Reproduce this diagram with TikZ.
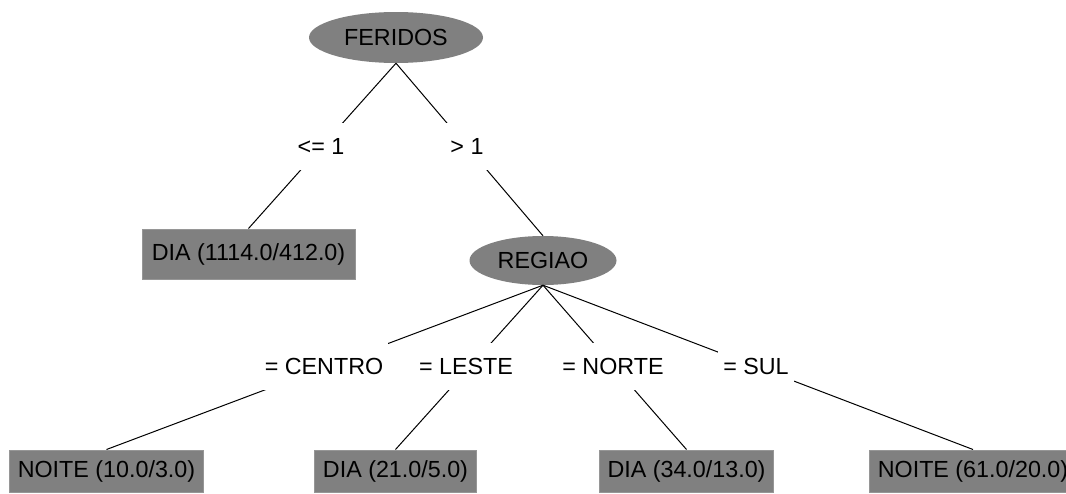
\documentclass[tikz,border=0pt]{standalone}
\usepackage{fontspec}
\setmainfont{Liberation Sans}
\usetikzlibrary{shapes.geometric}
\definecolor{nodegray}{RGB}{128,128,128}
\definecolor{boxedge}{RGB}{150,150,150}
\tikzset{
  inner/.style={ellipse, fill=nodegray, draw=none, inner sep=0pt, text height=16.8pt, text depth=0pt},
  leaf/.style={rectangle, fill=nodegray, draw=boxedge, line width=1pt, inner xsep=8pt, inner ysep=0pt, text height=16.8pt, text depth=4pt},
  lbl/.style={fill=white, inner xsep=5pt, inner ysep=0pt, minimum height=47pt, text height=16.8pt, text depth=0pt},
  edge/.style={draw=black, line width=1pt},
}
\begin{document}
\begin{tikzpicture}[x=1pt,y=-1pt,font=\fontsize{23.3}{28}\selectfont]
\useasboundingbox (0,0) rectangle (1066,493);
\node[inner, minimum width=174pt, minimum height=51pt] (fer) at (396,37.5) {FERIDOS};
\node[leaf, minimum width=213pt, minimum height=50pt] (dia1) at (248.5,254) {DIA (1114.0/412.0)};
\node[inner, minimum width=147pt, minimum height=49pt] (reg) at (543,260.5) {REGIAO};
\node[leaf, minimum height=42pt] (noite1) at (106.5,471) {NOITE (10.0/3.0)};
\node[leaf, minimum height=42pt] (dia2) at (395.5,471) {DIA (21.0/5.0)};
\node[leaf, minimum height=42pt] (dia3) at (686.5,471) {DIA (34.0/13.0)};
\node[leaf, minimum height=42pt] (noite2) at (973,471) {NOITE (61.0/20.0)};
\draw[edge] (fer.south) -- (dia1.north);
\draw[edge] (fer.south) -- (reg.north);
\draw[edge] (reg.south) -- (noite1.north);
\draw[edge] (reg.south) -- (dia2.north);
\draw[edge] (reg.south) -- (dia3.north);
\draw[edge] (reg.south) -- (noite2.north);
\node[lbl] (l1) at (321,146) {<= 1};
\node[lbl] (l2) at (467,146) {> 1};
\node[lbl] (l3) at (324,366) {= CENTRO};
\node[lbl] (l4) at (466,366) {= LESTE};
\node[lbl] (l5) at (613,366) {= NORTE};
\node[lbl] (l6) at (756,366) {= SUL};
\end{tikzpicture}
\end{document}
